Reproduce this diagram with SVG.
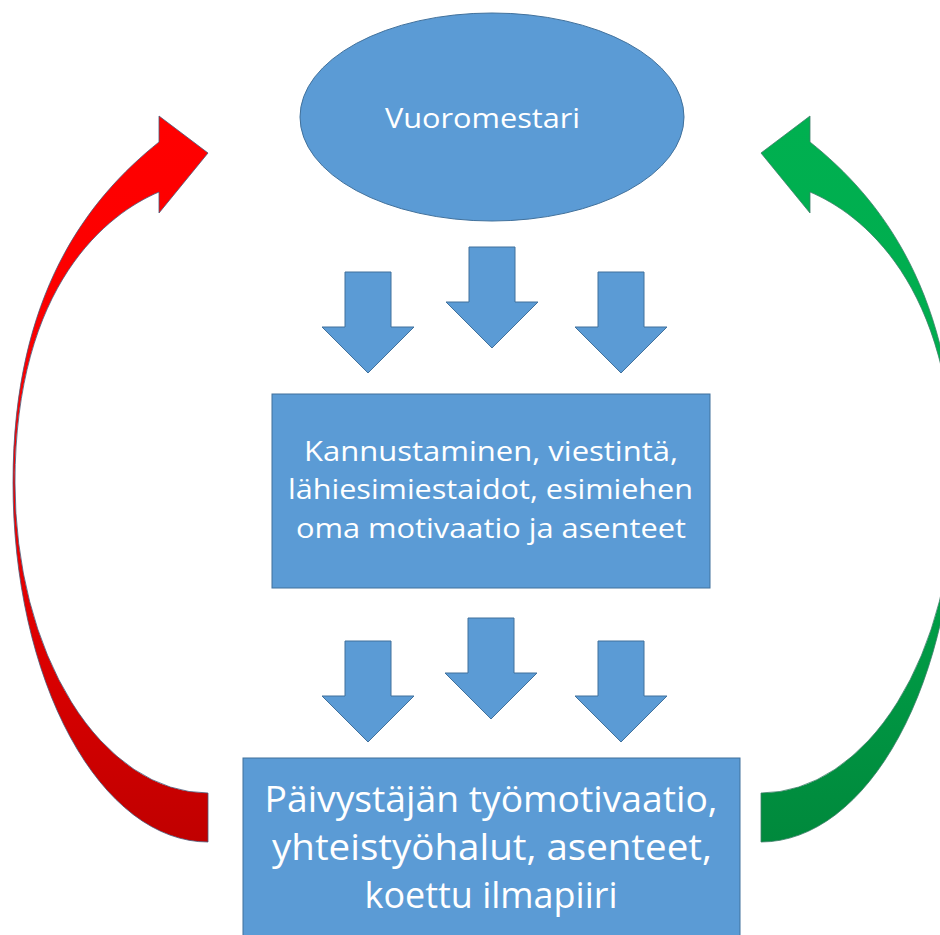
<svg xmlns="http://www.w3.org/2000/svg" xmlns:xlink="http://www.w3.org/1999/xlink" width="940" height="935" viewBox="0 0 940 935">
  <style>
    .shape { fill: #5B9BD5; stroke: #41719C; stroke-width: 1; }
    .lbl { fill: #ffffff; font-family: "Open Sans", "Liberation Sans", sans-serif; text-anchor: middle; }
    .curve { stroke: #4a5a7a; stroke-width: 0.8; stroke-linejoin: miter; }
  </style>
  <defs>
    <path id="darr" class="shape" d="M -23 0 H 23 V 55 H 46 L 0 101 L -46 55 H -23 Z"/>
    <linearGradient id="redGrad" x1="0" y1="0" x2="0" y2="1">
      <stop offset="0" stop-color="#FF0000"/>
      <stop offset="0.45" stop-color="#FA0000"/>
      <stop offset="1" stop-color="#C00000"/>
    </linearGradient>
    <linearGradient id="greenGrad" x1="0" y1="0" x2="0" y2="1">
      <stop offset="0" stop-color="#00B050"/>
      <stop offset="0.45" stop-color="#00AC4E"/>
      <stop offset="1" stop-color="#00893C"/>
    </linearGradient>
    <path id="curvedArrow" d="M 208 842 A 195 359 0 0 1 13 483 C 13 293 89 198 159 142 L 159 116 L 208 153 L 159 213 L 159 192 C 109 213 15 283 15 483 A 193 310 0 0 0 208 793 Z"/>
  </defs>

  <rect x="0" y="0" width="940" height="935" fill="#ffffff"/>

  <g id="connectors">
    <use xlink:href="#curvedArrow" href="#curvedArrow" class="curve" fill="url(#redGrad)"/>
    <g transform="translate(969,0) scale(-1,1)">
      <use xlink:href="#curvedArrow" href="#curvedArrow" class="curve" fill="url(#greenGrad)" style="stroke:#3f7f6a"/>
    </g>
    <use xlink:href="#darr" href="#darr" x="368" y="272"/>
    <use xlink:href="#darr" href="#darr" x="492" y="247"/>
    <use xlink:href="#darr" href="#darr" x="621" y="272"/>
    <use xlink:href="#darr" href="#darr" x="368" y="641"/>
    <use xlink:href="#darr" href="#darr" x="491" y="618"/>
    <use xlink:href="#darr" href="#darr" x="621" y="641"/>
  </g>

  <g id="vuoromestari">
    <ellipse class="shape" cx="492" cy="117" rx="192" ry="104"/>
    <text class="lbl" x="482.5" y="128" font-size="27.5" textLength="195" lengthAdjust="spacingAndGlyphs">Vuoromestari</text>
  </g>

  <g id="keinot">
    <rect class="shape" x="272" y="394" width="438" height="194"/>
    <text class="lbl" x="491" y="461" font-size="28" textLength="374" lengthAdjust="spacingAndGlyphs">Kannustaminen, viestintä,</text>
    <text class="lbl" x="490.5" y="499" font-size="28" textLength="405" lengthAdjust="spacingAndGlyphs">lähiesimiestaidot, esimiehen</text>
    <text class="lbl" x="491" y="538" font-size="28" textLength="390" lengthAdjust="spacingAndGlyphs">oma motivaatio ja asenteet</text>
  </g>

  <g id="paivystaja">
    <rect class="shape" x="243" y="758" width="497" height="200"/>
    <text class="lbl" x="491" y="812" font-size="36" textLength="453" lengthAdjust="spacingAndGlyphs">Päivystäjän työmotivaatio,</text>
    <text class="lbl" x="492" y="860" font-size="36" textLength="440" lengthAdjust="spacingAndGlyphs">yhteistyöhalut, asenteet,</text>
    <text class="lbl" x="491" y="908" font-size="36" textLength="253" lengthAdjust="spacingAndGlyphs">koettu ilmapiiri</text>
  </g>
</svg>
